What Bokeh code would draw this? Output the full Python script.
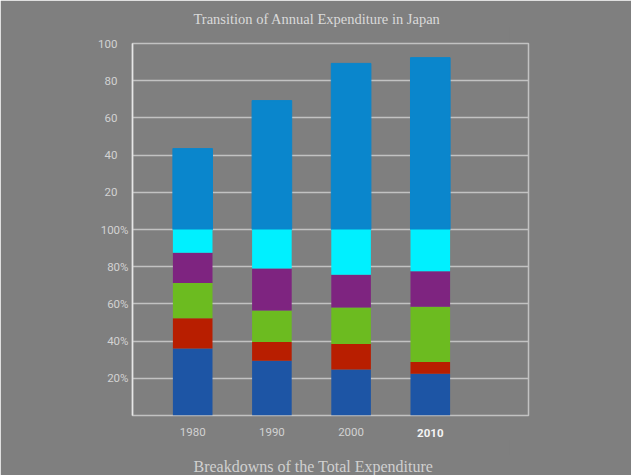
import numpy as np
from bokeh.plotting import figure
from bokeh.models import Range1d, FixedTicker, LinearAxis, Title
from bokeh.embed import file_html
from bokeh.resources import INLINE

years = ["1980", "1990", "2000", "2010"]
xpos = [1, 2, 3, 4]
total = [43.5, 69.3, 89.3, 92.4]
seg_blue = [36.0, 29.5, 24.7, 22.5]
seg_red = [16.3, 10.0, 13.7, 6.3]
seg_green = [19.0, 17.0, 19.6, 29.7]
seg_purple = [16.2, 22.5, 17.7, 19.0]
seg_cyan = [12.5, 21.0, 24.3, 22.5]
seg_colors = ["#1d55a5", "#b81e00", "#6cbb20", "#7e2480", "#00f0ff"]
top_ticks = [20, 40, 60, 80, 100]
pct_ticks = [20, 40, 60, 80, 100]

BG = "#7f7f7f"
GRID = "#c2c2c2"
TXT = "#d2d2d2"

# upper panel: values 0..100 ; lower panel: shares 0..100% drawn on y = pct - 100
p = figure(width=631, height=475, x_range=Range1d(0.24, 5.24), y_range=Range1d(-100, 100),
           output_backend="svg", toolbar_location=None, x_axis_location=None, y_axis_location=None,
           min_border_top=43, min_border_bottom=60, min_border_left=132, min_border_right=103)
p.background_fill_color = BG
p.border_fill_color = BG
p.outline_line_color = GRID
p.outline_line_width = 1.5
p.xgrid.grid_line_color = None
p.ygrid.ticker = FixedTicker(ticks=[t - 100 for t in pct_ticks] + top_ticks)
p.ygrid.grid_line_color = GRID
p.ygrid.grid_line_width = 1.5

# bars
p.vbar(x=xpos, bottom=0, top=total, width=0.5, color="#0a86cc")
segs = np.array([seg_blue, seg_red, seg_green, seg_purple, seg_cyan])
tops = np.cumsum(segs, axis=0) - 100
bottoms = tops - segs
for b, t, c in zip(bottoms, tops, seg_colors):
    p.vbar(x=xpos, bottom=b, top=t, width=0.5, color=c, line_color=None)

def yax(ticks, labels, standoff, line):
    ax = LinearAxis(ticker=FixedTicker(ticks=ticks),
                    major_label_overrides={t: l for t, l in zip(ticks, labels)})
    ax.axis_line_color = "#e6e6e6" if line else None
    ax.axis_line_width = 1.5
    ax.major_tick_line_color = None
    ax.minor_tick_line_color = None
    ax.major_tick_out = 0
    ax.major_tick_in = 0
    ax.major_label_text_color = TXT
    ax.major_label_text_font = "Roboto"
    ax.major_label_text_font_size = "11.5px"
    ax.major_label_standoff = standoff
    return ax

pct_axis = yax([t - 100 for t in pct_ticks], [f"{t}%" for t in pct_ticks], 4, True)
val_axis = yax(top_ticks, [str(t) for t in top_ticks], -20, False)
p.add_layout(pct_axis, "left")
p.add_layout(val_axis, "left")

def xax(ticks, labels, standoff, bold, color):
    ax = LinearAxis(ticker=FixedTicker(ticks=ticks),
                    major_label_overrides={t: l for t, l in zip(ticks, labels)})
    ax.axis_line_color = None
    ax.major_tick_line_color = None
    ax.minor_tick_line_color = None
    ax.major_tick_out = 0
    ax.major_tick_in = 0
    ax.major_label_text_color = color
    ax.major_label_text_font = "Roboto"
    ax.major_label_text_font_style = "bold" if bold else "normal"
    ax.major_label_text_font_size = "11.5px"
    ax.major_label_standoff = standoff
    return ax

def spacer(size):
    # invisible axis used only to reserve vertical room
    ax = LinearAxis(ticker=FixedTicker(ticks=[5]), major_label_overrides={5: ""})
    ax.axis_line_color = None
    ax.major_tick_line_color = BG
    ax.major_tick_line_width = 0.01
    ax.minor_tick_line_color = None
    ax.major_tick_out = size
    ax.major_tick_in = 0
    ax.major_label_standoff = 0
    ax.major_label_text_font_size = "1px"
    ax.major_label_text_color = BG
    return ax

p.add_layout(xax(xpos[:3], years[:3], 12, False, TXT), "below")
p.add_layout(xax(xpos[3:], years[3:], -10, True, "#f4f4f4"), "below")
p.add_layout(spacer(16), "below")
p.add_layout(spacer(17), "above")

t = Title(text="Transition of Annual Expenditure in Japan", align="left", offset=61,
          text_color="#dadada", text_font="Liberation Serif", text_font_style="normal",
          text_font_size="14.5px", standoff=0)
p.add_layout(t, "above")
b = Title(text="Breakdowns of the Total Expenditure", align="left", offset=61,
          text_color="#d0d0d0", text_font="Liberation Serif", text_font_style="normal",
          text_font_size="16px", standoff=0)
p.add_layout(b, "below")

open("out.html", "w").write(file_html(p, INLINE))
